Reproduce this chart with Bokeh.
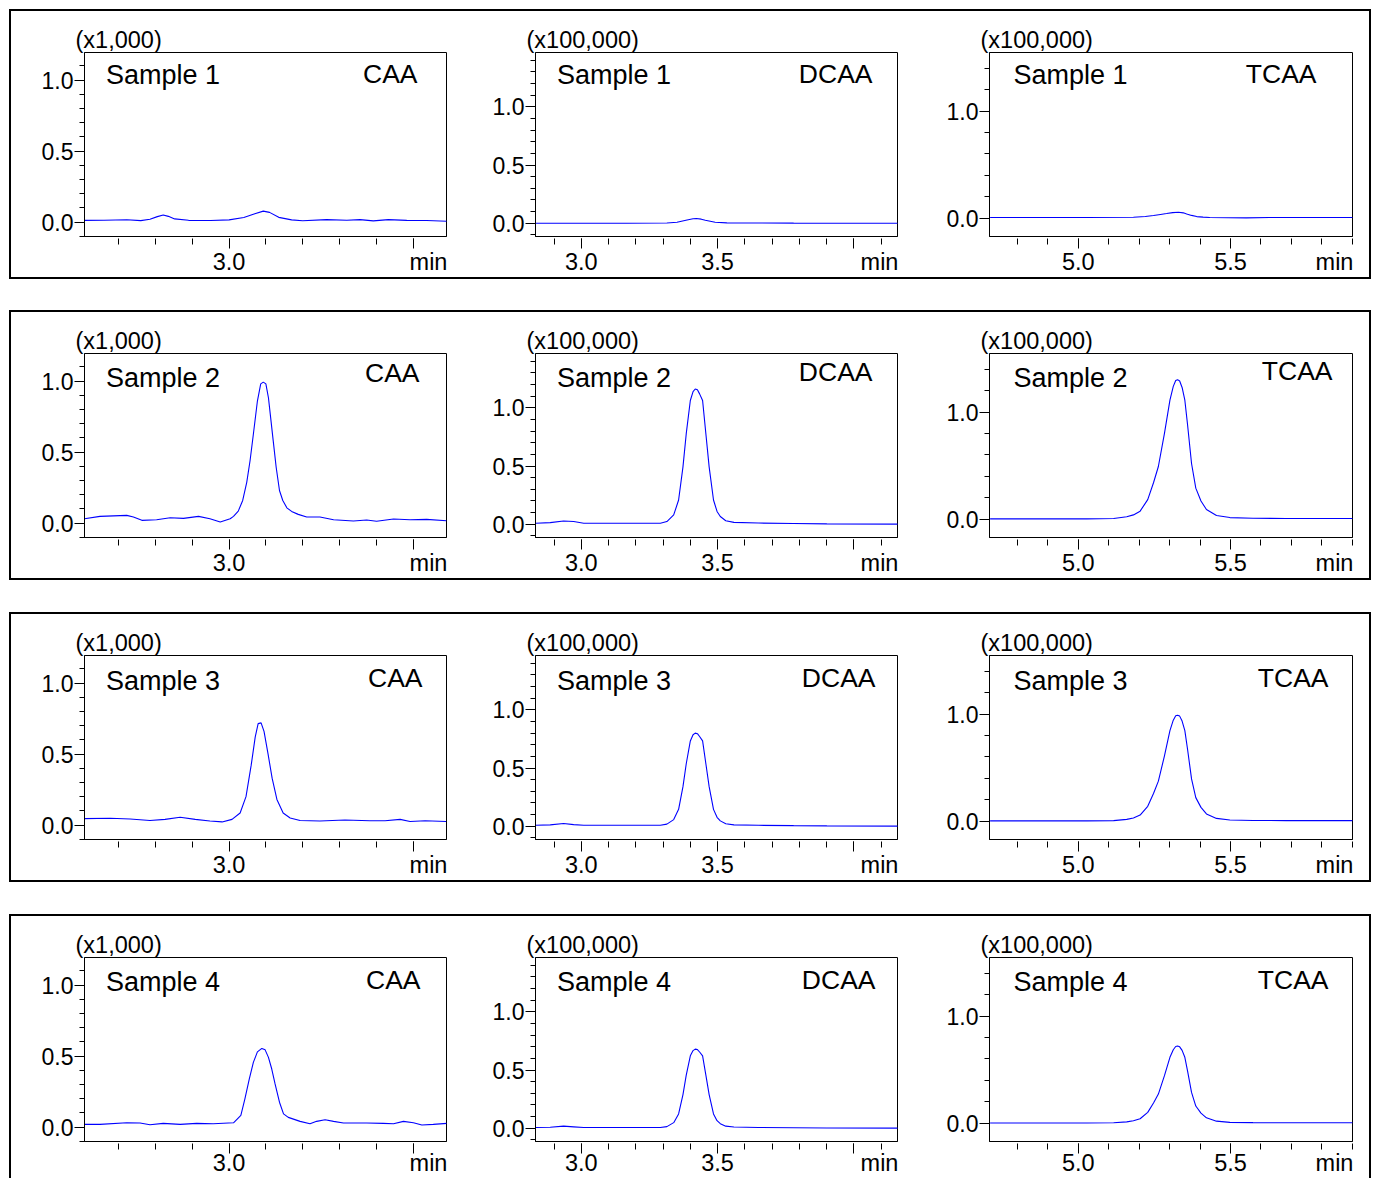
from bokeh.plotting import figure
from bokeh.models import (Range1d, SingleIntervalTicker, FixedTicker, PrintfTickFormatter, Label,
                          LinearAxis, Row, Column)
from bokeh.embed import file_html
from bokeh.resources import INLINE

# ---------------- data ----------------
samples = ["Sample 1", "Sample 2", "Sample 3", "Sample 4"]
compounds = ["CAA", "DCAA", "TCAA"]
scale_labels = ["(x1,000)", "(x100,000)", "(x100,000)"]
unit_label = "min"
x_unlabelled = [3.5, 4.0, None]

# CAA (x1,000)
caa1_t = [2.607, 2.660, 2.722, 2.760, 2.785, 2.805, 2.821, 2.835, 2.852, 2.890, 2.950, 3.000, 3.040, 3.070,
          3.093, 3.110, 3.135, 3.170, 3.200, 3.265, 3.320, 3.356, 3.392, 3.433, 3.483, 3.537, 3.592]
caa1_v = [0.012, 0.013, 0.016, 0.010, 0.020, 0.038, 0.049, 0.040, 0.022, 0.012, 0.011, 0.015, 0.032, 0.058,
          0.077, 0.068, 0.033, 0.015, 0.009, 0.017, 0.013, 0.017, 0.008, 0.017, 0.012, 0.011, 0.006]

caa2_t = [2.607, 2.649, 2.722, 2.740, 2.763, 2.803, 2.840, 2.876, 2.917, 2.948, 2.976, 3.003, 3.012, 3.025,
          3.037, 3.048, 3.057, 3.066, 3.077, 3.086, 3.093, 3.100, 3.107, 3.113, 3.120, 3.128, 3.137, 3.146,
          3.157, 3.170, 3.188, 3.211, 3.247, 3.284, 3.338, 3.374, 3.401, 3.447, 3.492, 3.537, 3.591]
caa2_v = [0.030, 0.047, 0.054, 0.042, 0.019, 0.023, 0.037, 0.033, 0.047, 0.030, 0.007, 0.030, 0.047, 0.084,
          0.159, 0.287, 0.439, 0.626, 0.860, 0.981, 0.993, 0.981, 0.883, 0.743, 0.579, 0.393, 0.229, 0.159,
          0.107, 0.082, 0.061, 0.042, 0.042, 0.023, 0.014, 0.021, 0.012, 0.028, 0.023, 0.026, 0.016]

caa3_t = [2.606, 2.677, 2.731, 2.785, 2.826, 2.867, 2.908, 2.948, 2.981, 3.008, 3.030, 3.046, 3.060, 3.071,
          3.079, 3.087, 3.095, 3.106, 3.117, 3.130, 3.147, 3.166, 3.193, 3.247, 3.315, 3.383, 3.424, 3.465,
          3.492, 3.533, 3.590]
caa3_v = [0.045, 0.048, 0.042, 0.032, 0.040, 0.055, 0.040, 0.028, 0.022, 0.040, 0.085, 0.200, 0.420, 0.620,
          0.715, 0.720, 0.660, 0.500, 0.330, 0.180, 0.085, 0.050, 0.032, 0.028, 0.035, 0.030, 0.030, 0.040,
          0.025, 0.030, 0.025]

caa4_t = [2.607, 2.649, 2.722, 2.758, 2.785, 2.821, 2.867, 2.912, 2.957, 3.012, 3.032, 3.043, 3.055, 3.066,
          3.077, 3.089, 3.098, 3.107, 3.116, 3.125, 3.137, 3.148, 3.161, 3.193, 3.220, 3.238, 3.261, 3.284,
          3.311, 3.374, 3.419, 3.447, 3.474, 3.501, 3.524, 3.555, 3.592]
caa4_v = [0.019, 0.019, 0.030, 0.028, 0.016, 0.026, 0.019, 0.026, 0.023, 0.030, 0.082, 0.199, 0.339, 0.456,
          0.530, 0.554, 0.544, 0.491, 0.409, 0.304, 0.175, 0.093, 0.068, 0.040, 0.023, 0.040, 0.051, 0.040,
          0.028, 0.028, 0.026, 0.023, 0.040, 0.030, 0.014, 0.019, 0.026]

# DCAA (x100,000)
dcaa1_t = [2.833, 3.167, 3.314, 3.351, 3.388, 3.410, 3.422, 3.440, 3.455, 3.491, 3.534, 3.779, 4.164]
dcaa1_v = [0.000, 0.000, 0.002, 0.008, 0.028, 0.038, 0.040, 0.035, 0.026, 0.009, 0.003, 0.001, 0.000]

dcaa2_t = [2.833, 2.886, 2.935, 2.972, 3.009, 3.167, 3.290, 3.314, 3.339, 3.357, 3.373, 3.385, 3.400, 3.410,
           3.418, 3.426, 3.434, 3.445, 3.457, 3.469, 3.485, 3.498, 3.510, 3.530, 3.560, 3.650, 3.779, 3.901, 4.164]
dcaa2_v = [0.009, 0.014, 0.028, 0.023, 0.009, 0.009, 0.009, 0.023, 0.080, 0.208, 0.493, 0.778, 1.063, 1.140,
           1.162, 1.155, 1.120, 1.063, 0.778, 0.493, 0.208, 0.110, 0.066, 0.030, 0.016, 0.010, 0.006, 0.003, 0.001]

dcaa3_t = dcaa2_t
dcaa3_v = [0.008, 0.012, 0.024, 0.014, 0.008, 0.008, 0.008, 0.018, 0.057, 0.145, 0.340, 0.537, 0.733, 0.786,
           0.800, 0.795, 0.771, 0.733, 0.537, 0.340, 0.145, 0.077, 0.046, 0.021, 0.012, 0.008, 0.005, 0.003, 0.001]

dcaa4_t = dcaa2_t
dcaa4_v = [0.006, 0.009, 0.018, 0.012, 0.006, 0.006, 0.006, 0.014, 0.048, 0.123, 0.289, 0.456, 0.622, 0.667,
           0.680, 0.676, 0.655, 0.622, 0.456, 0.289, 0.123, 0.065, 0.039, 0.018, 0.010, 0.006, 0.004, 0.002, 0.001]

# TCAA (x100,000)
tcaa1_t = [4.710, 5.028, 5.181, 5.220, 5.247, 5.270, 5.290, 5.310, 5.329, 5.345, 5.356, 5.372, 5.389, 5.410,
           5.432, 5.552, 5.629, 5.902]
tcaa1_v = [0.006, 0.006, 0.009, 0.016, 0.025, 0.035, 0.043, 0.052, 0.056, 0.050, 0.040, 0.026, 0.015, 0.010,
           0.006, 0.003, 0.006, 0.006]

tcaa2_t = [4.710, 5.028, 5.116, 5.159, 5.181, 5.203, 5.228, 5.247, 5.263, 5.283, 5.301, 5.312, 5.320, 5.326,
           5.333, 5.341, 5.350, 5.359, 5.372, 5.386, 5.403, 5.421, 5.454, 5.498, 5.574, 5.683, 5.902]
tcaa2_v = [0.003, 0.003, 0.006, 0.022, 0.040, 0.075, 0.183, 0.340, 0.492, 0.802, 1.111, 1.240, 1.295, 1.303,
           1.290, 1.230, 1.111, 0.880, 0.520, 0.290, 0.170, 0.090, 0.034, 0.015, 0.009, 0.006, 0.006]

tcaa3_t = tcaa2_t
tcaa3_v = [0.003, 0.003, 0.005, 0.017, 0.030, 0.057, 0.139, 0.258, 0.374, 0.610, 0.845, 0.943, 0.984, 0.990,
           0.981, 0.935, 0.845, 0.669, 0.395, 0.220, 0.129, 0.068, 0.026, 0.011, 0.007, 0.005, 0.005]

tcaa4_t = tcaa2_t
tcaa4_v = [0.002, 0.002, 0.004, 0.012, 0.022, 0.041, 0.101, 0.188, 0.272, 0.444, 0.615, 0.686, 0.716, 0.720,
           0.713, 0.680, 0.615, 0.486, 0.287, 0.160, 0.094, 0.050, 0.019, 0.008, 0.005, 0.004, 0.004]

series = [
    [(caa1_t, caa1_v), (dcaa1_t, dcaa1_v), (tcaa1_t, tcaa1_v)],
    [(caa2_t, caa2_v), (dcaa2_t, dcaa2_v), (tcaa2_t, tcaa2_v)],
    [(caa3_t, caa3_v), (dcaa3_t, dcaa3_v), (tcaa3_t, tcaa3_v)],
    [(caa4_t, caa4_v), (dcaa4_t, dcaa4_v), (tcaa4_t, tcaa4_v)],
]

# axis ranges and ticks per compound
x_ranges = [(2.607, 3.591), (2.832, 4.160), (4.708, 5.901)]
y_ranges = [(-0.102, 1.195), (-0.114, 1.467), (-0.171, 1.547)]
y_major = [0.5, 0.5, 1.0]

# ---------------- layout / style ----------------
FONT = "Liberation Sans"
fig_w = [468, 446, 444]
bord_l = [73, 56, 64]
bord_r = [33, 28, 17]
BORD_T = 41
FRAME_H = 185
row_h = [266, 266, 266, 262]
row_extra_gap = [0, 0, 1, 1]
x_label_standoff = [4, 4, 4, 0]
LABEL_H = 24            # height of a 23.5px tick label box, to pull "min" up onto the label line
MIN_INSET = 18          # px between centre of "min" and right edge of frame
TEXT_RAISE = 10.5       # baseline correction for in-frame labels
sample_dx = [21.5, 21.5, 24]
sample_depth = [34, 36, 36.5, 35.5]
comp_dx = [[-29, -25, -36], [-27, -25, -20], [-24, -22, -24], [-26, -22, -24]]
comp_depth = [[33, 33, 33], [31, 29.5, 28.5], [33.5, 33.5, 33.5], [33.5, 33.5, 33.5]]


def panel(ri, ci):
    h = row_h[ri]
    fw = fig_w[ci] - bord_l[ci] - bord_r[ci]
    x0, x1 = x_ranges[ci]
    p = figure(width=fig_w[ci], height=h,
               x_range=Range1d(x0, x1), y_range=Range1d(*y_ranges[ci]),
               output_backend="svg", toolbar_location=None, tools="",
               min_border_left=bord_l[ci], min_border_right=bord_r[ci],
               min_border_top=BORD_T, min_border_bottom=h - BORD_T - FRAME_H)
    p.background_fill_color = "white"
    p.border_fill_color = "white"
    p.outline_line_color = "black"
    p.outline_line_width = 1
    p.grid.visible = False

    # scale factor above the frame
    p.title.text = scale_labels[ci]
    p.title.align = "left"
    p.title.offset = -9
    p.title.standoff = 0
    p.title.text_font = FONT
    p.title.text_font_size = "23.5px"
    p.title.text_font_style = "normal"
    p.title.text_color = "black"

    t, v = series[ri][ci]
    p.line(t, v, line_color="#0000ff", line_width=1.1)

    # main x axis: ticks and numeric labels
    xa = p.xaxis[0]
    xa.ticker = SingleIntervalTicker(interval=0.5, num_minor_ticks=5)
    xa.formatter = PrintfTickFormatter(format="%.1f")
    if x_unlabelled[ci] is not None:
        xa.major_label_overrides = {x_unlabelled[ci]: ""}
    xa.axis_line_color = "black"
    xa.major_tick_line_color = "black"
    xa.minor_tick_line_color = "black"
    xa.major_tick_in = -2
    xa.major_tick_out = 12
    xa.minor_tick_in = -2
    xa.minor_tick_out = 8
    xa.major_label_standoff = x_label_standoff[ri]
    xa.major_label_text_font = FONT
    xa.major_label_text_font_size = "23.5px"
    xa.major_label_text_color = "black"

    # second axis carrying only the "min" unit, pulled up onto the label line
    min_pos = x1 - MIN_INSET * (x1 - x0) / fw
    xb = LinearAxis(ticker=FixedTicker(ticks=[min_pos]),
                    major_label_overrides={min_pos: unit_label},
                    axis_line_color=None, major_tick_line_color=None, minor_tick_line_color=None,
                    major_tick_in=0, major_tick_out=0, minor_tick_in=0, minor_tick_out=0,
                    major_label_standoff=-LABEL_H, major_label_text_font=FONT,
                    major_label_text_font_size="23.5px", major_label_text_color="black")
    p.add_layout(xb, "below")

    ya = p.yaxis[0]
    ya.ticker = SingleIntervalTicker(interval=y_major[ci], num_minor_ticks=5)
    ya.formatter = PrintfTickFormatter(format="%.1f")
    ya.axis_line_color = "black"
    ya.major_tick_line_color = "black"
    ya.minor_tick_line_color = "black"
    ya.major_tick_in = 0
    ya.major_tick_out = 10
    ya.minor_tick_in = 0
    ya.minor_tick_out = 5
    ya.major_label_standoff = 1
    ya.major_label_text_font = FONT
    ya.major_label_text_font_size = "23px"
    ya.major_label_text_color = "black"

    p.add_layout(Label(x=sample_dx[ci], y=FRAME_H - sample_depth[ri] + TEXT_RAISE,
                       x_units="screen", y_units="screen",
                       text=samples[ri], text_font=FONT, text_font_size="27px",
                       text_align="left", text_baseline="alphabetic", text_color="black"))
    p.add_layout(Label(x=fw + comp_dx[ri][ci], y=FRAME_H - comp_depth[ri][ci] + TEXT_RAISE,
                       x_units="screen", y_units="screen",
                       text=compounds[ci], text_font=FONT, text_font_size="26.5px",
                       text_align="right", text_baseline="alphabetic", text_color="black"))
    return p


rows = []
for ri in range(4):
    figs = [panel(ri, ci) for ci in range(3)]
    if ri < 3:
        st = {"border": "2px solid black"}
    else:
        st = {"border-top": "2px solid black", "border-left": "2px solid black",
              "border-right": "2px solid black"}
    if row_extra_gap[ri]:
        st["margin-top"] = f"{row_extra_gap[ri]}px"
    rows.append(Row(children=figs, spacing=0, styles=st))

root = Column(children=rows, spacing=31, styles={"padding-top": "9px", "padding-left": "9px"})

open("out.html", "w").write(file_html(root, INLINE))
